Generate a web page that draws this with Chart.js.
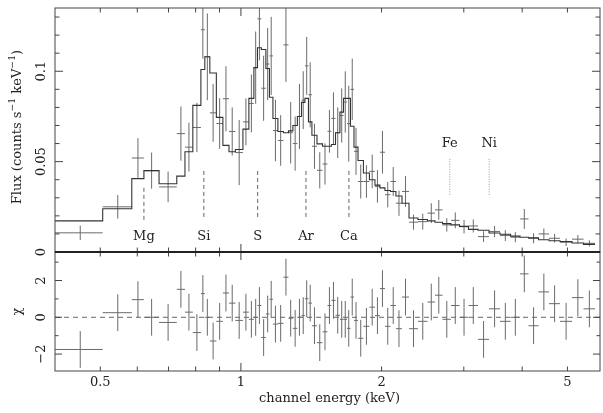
<!DOCTYPE html>
<html>
<head>
<meta charset="utf-8">
<script src="https://cdn.jsdelivr.net/npm/chart.js@4.4.0/dist/chart.umd.min.js"></script>
<style>
  html, body { margin: 0; padding: 0; background: #fff; }
  #wrap { position: relative; width: 603px; height: 413px; }
  canvas { position: absolute; left: 0; }
  #top { top: 0; }
  #bot { top: 244px; }
</style>
</head>
<body>
<div id="wrap">
  <canvas id="top" width="603" height="260"></canvas>
  <canvas id="bot" width="603" height="169"></canvas>
</div>
<script>
// spectral bins (keV edges), one value per bin below
const binEdges = [0.400, 0.506, 0.584, 0.620, 0.668, 0.729, 0.759, 0.789, 0.821, 0.837,
  0.858, 0.886, 0.915, 0.943, 0.973, 1.010, 1.040, 1.066, 1.085, 1.106,
  1.131, 1.151, 1.171, 1.200, 1.233, 1.264, 1.292, 1.321, 1.348, 1.371,
  1.395, 1.419, 1.455, 1.495, 1.532, 1.562, 1.594, 1.629, 1.658, 1.687,
  1.716, 1.746, 1.781, 1.829, 1.884, 1.936, 1.984, 2.034, 2.090, 2.147,
  2.212, 2.290, 2.393, 2.508, 2.603, 2.701, 2.816, 2.937, 3.070, 3.217,
  3.397, 3.586, 3.777, 3.958, 4.127, 4.336, 4.566, 4.820, 5.114, 5.413, 5.728];

const flux = [0.0106, 0.025, 0.052, 0.045, 0.036, 0.0655, 0.058, 0.0689, 0.123, 0.108,
  0.077, 0.0711, 0.0848, 0.0667, 0.055, 0.072, 0.0822, 0.102, 0.129, 0.0906,
  0.104, 0.1085, 0.0672, 0.0617, 0.1146, 0.066, 0.060, 0.075, 0.084, 0.103,
  0.087, 0.0585, 0.0452, 0.0487, 0.0668, 0.0739, 0.066, 0.0755, 0.083, 0.071,
  0.090, 0.0557, 0.039, 0.039, 0.0446, 0.0363, 0.0552, 0.0317, 0.039, 0.027,
  0.0335, 0.0165, 0.0168, 0.0215, 0.0233, 0.0150, 0.0175, 0.0140, 0.0144, 0.0085,
  0.0113, 0.0091, 0.0082, 0.0183, 0.0076, 0.0100, 0.0076, 0.0054, 0.0071, 0.0048];

const fluxErr = [0.004, 0.0065, 0.011, 0.010, 0.0085, 0.015, 0.0135, 0.0136, 0.016, 0.024,
  0.016, 0.014, 0.018, 0.0133, 0.018, 0.013, 0.016, 0.020, 0.023, 0.018,
  0.020, 0.0216, 0.017, 0.014, 0.0205, 0.017, 0.015, 0.018, 0.016, 0.016,
  0.018, 0.0125, 0.010, 0.0114, 0.0118, 0.0144, 0.014, 0.015, 0.017, 0.021,
  0.017, 0.013, 0.0094, 0.009, 0.0093, 0.009, 0.0118, 0.007, 0.008, 0.007,
  0.0085, 0.0042, 0.0044, 0.0055, 0.0055, 0.0037, 0.0044, 0.0037, 0.0036, 0.003,
  0.0031, 0.003, 0.0028, 0.0055, 0.0028, 0.003, 0.0024, 0.0021, 0.0023, 0.0017];

const model = [0.0172, 0.0239, 0.0406, 0.045, 0.0378, 0.042, 0.0555, 0.0811, 0.101, 0.108,
  0.099, 0.0745, 0.059, 0.0555, 0.0567, 0.068, 0.085, 0.102, 0.113, 0.112,
  0.1015, 0.0856, 0.0739, 0.0667, 0.066, 0.067, 0.070, 0.075, 0.0828, 0.085,
  0.072, 0.0646, 0.0598, 0.0585, 0.0585, 0.0595, 0.066, 0.0774, 0.085, 0.085,
  0.0696, 0.058, 0.0506, 0.0437, 0.040, 0.037, 0.0355, 0.034, 0.0335, 0.031,
  0.027, 0.0188, 0.018, 0.0172, 0.0165, 0.0157, 0.015, 0.0142, 0.0125, 0.012,
  0.0105, 0.0098, 0.0088, 0.0082, 0.0078, 0.0068, 0.0062, 0.0058, 0.005, 0.0042];

const chi = [-1.75, 0.25, 0.96, 0, -0.28, 1.52, 0.28, -0.83, 1.29, 0,
  -1.29, -0.22, 1.32, 0.77, -0.17, 0.28, -0.11, 0, 0.64, -1.1,
  0.18, 0.98, -0.37, -0.33, 2.18, -0.05, -0.6, 0, 0.09, 1.01,
  0.77, -0.46, -1.38, -0.79, 0.64, 0.92, 0.11, -0.11, -0.11, -0.6,
  1.1, -0.17, -1.14, -0.49, 0.55, 0.09, 1.56, -0.49, 0.64, -0.62,
  1.1, -0.62, -0.22, 0.83, 1.2, -0.11, 0.64, 0, 0.64, -1.2,
  0.46, -0.22, 0, 2.36, -0.46, 1.38, 0.74, -0.22, 1.07, 0.46];
const CHI_ERR = 1;

// line identifications
const lineNames = ['Mg', 'Si', 'S', 'Ar', 'Ca'];
const lineEnergy = [0.620, 0.833, 1.086, 1.378, 1.703];
const lineLo = [0.0178, 0.0194, 0.0194, 0.0194, 0.0194];
const lineHi = [0.0356, 0.0449, 0.0449, 0.0449, 0.0449];
const hiNames = ['Fe', 'Ni'];
const hiEnergy = [2.80, 3.40];
const hiLo = 0.0316, hiHi = 0.052;

const xTicks = [0.5, 0.6, 0.7, 0.8, 0.9, 1, 2, 3, 4, 5];
const xTickLabels = ['0.5', '1', '2', '5'];
const xTickLabelVals = [0.5, 1, 2, 5];
const fluxTicks = [0, 0.01, 0.02, 0.03, 0.04, 0.05, 0.06, 0.07, 0.08, 0.09, 0.1, 0.11, 0.12, 0.13];
const fluxLabelVals = [0, 0.05, 0.1];
const fluxLabels = ['0', '0.05', '0.1'];
const chiTicks = [-2, -1, 0, 1, 2, 3];
const chiLabelVals = [-2, 0, 2];
const chiLabels = ['\u22122', '0', '2'];

const FONT = '"DejaVu Serif", serif';
const INK = '#222';

function crosses(vals, errs) {
  const pts = [];
  for (let i = 0; i < vals.length; i++) {
    const lo = binEdges[i], hi = binEdges[i + 1], c = (lo + hi) / 2;
    const e = Array.isArray(errs) ? errs[i] : errs;
    pts.push({ x: lo, y: vals[i] }, { x: hi, y: vals[i] }, { x: c, y: null });
    pts.push({ x: c, y: vals[i] - e }, { x: c, y: vals[i] + e }, { x: c, y: null });
  }
  return pts;
}

function steps(vals) {
  const pts = [];
  for (let i = 0; i < vals.length; i++) {
    pts.push({ x: binEdges[i], y: vals[i] }, { x: binEdges[i + 1], y: vals[i] });
  }
  return pts;
}

function markers(energies, lo, hi) {
  const pts = [];
  energies.forEach((e, i) => {
    const a = Array.isArray(lo) ? lo[i] : lo, b = Array.isArray(hi) ? hi[i] : hi;
    pts.push({ x: e, y: a }, { x: e, y: b }, { x: e, y: null });
  });
  return pts;
}

function rotText(ctx, text, x, y) {
  ctx.save();
  ctx.translate(x, y);
  ctx.rotate(-Math.PI / 2);
  ctx.textAlign = 'center';
  ctx.textBaseline = 'middle';
  ctx.fillText(text, 0, 0);
  ctx.restore();
}

function richRot(ctx, parts, x, y, size) {
  ctx.save();
  ctx.translate(x, y);
  ctx.rotate(-Math.PI / 2);
  ctx.textBaseline = 'middle';
  ctx.textAlign = 'left';
  let w = 0;
  parts.forEach(([t, sup]) => { ctx.font = (sup ? size * 0.72 : size) + 'px ' + FONT; w += ctx.measureText(t).width; });
  let cx = -w / 2;
  parts.forEach(([t, sup]) => {
    ctx.font = (sup ? size * 0.72 : size) + 'px ' + FONT;
    ctx.fillText(t, cx, sup ? -size * 0.42 : 0);
    cx += ctx.measureText(t).width;
  });
  ctx.restore();
}

function frameAndTicks(chart, yTicks, isMajorY, yMaj, yMin) {
  const { ctx, chartArea: a, scales: { x, y } } = chart;
  ctx.save();
  ctx.strokeStyle = '#444';
  ctx.lineWidth = 1;
  ctx.strokeRect(a.left, a.top, a.right - a.left, a.bottom - a.top);
  ctx.beginPath();
  xTicks.forEach(v => {
    const px = x.getPixelForValue(v);
    const len = v === 1 ? 8 : 4.5;
    ctx.moveTo(px, a.top); ctx.lineTo(px, a.top + len);
    ctx.moveTo(px, a.bottom); ctx.lineTo(px, a.bottom - len);
  });
  yTicks.forEach(v => {
    const py = y.getPixelForValue(v);
    const len = isMajorY(v) ? yMaj : yMin;
    ctx.moveTo(a.left, py); ctx.lineTo(a.left + len, py);
    ctx.moveTo(a.right, py); ctx.lineTo(a.right - len, py);
  });
  ctx.stroke();
  ctx.restore();
}

const topDecor = {
  id: 'topDecor',
  afterDraw(chart) {
    const { ctx, chartArea: a, scales: { x, y } } = chart;
    frameAndTicks(chart, fluxTicks, v => Math.abs(v * 20 - Math.round(v * 20)) < 1e-6, 8, 4.5);
    ctx.save();
    ctx.fillStyle = INK;
    ctx.font = '13px ' + FONT;
    fluxLabelVals.forEach((v, i) => rotText(ctx, fluxLabels[i], a.left - 13, y.getPixelForValue(v)));
    richRot(ctx, [['Flux (counts s', false], ['\u22121', true], [' keV', false], ['\u22121', true], [')', false]],
      18, (a.top + a.bottom) / 2 - 3, 13);
    ctx.font = '13px ' + FONT;
    ctx.textAlign = 'center';
    ctx.textBaseline = 'middle';
    lineNames.forEach((n, i) => ctx.fillText(n, x.getPixelForValue(lineEnergy[i]), y.getPixelForValue(0.0083)));
    hiNames.forEach((n, i) => ctx.fillText(n, x.getPixelForValue(hiEnergy[i]), y.getPixelForValue(0.0598)));
    ctx.restore();
  }
};

const botDecor = {
  id: 'botDecor',
  afterDraw(chart) {
    const { ctx, chartArea: a, scales: { x, y } } = chart;
    frameAndTicks(chart, chiTicks, v => v % 2 === 0, 7, 3.5);
    ctx.save();
    ctx.strokeStyle = '#222';
    ctx.lineWidth = 2;
    ctx.beginPath();
    ctx.moveTo(a.left, a.top); ctx.lineTo(a.right, a.top);
    ctx.stroke();
    ctx.fillStyle = INK;
    ctx.font = '13px ' + FONT;
    chiLabelVals.forEach((v, i) => rotText(ctx, chiLabels[i], a.left - 13, y.getPixelForValue(v)));
    rotText(ctx, '\u03c7', 18, (a.top + a.bottom) / 2);
    ctx.textAlign = 'center';
    ctx.textBaseline = 'middle';
    xTickLabelVals.forEach((v, i) => ctx.fillText(xTickLabels[i], x.getPixelForValue(v), a.bottom + 12));
    ctx.fillText('channel energy (keV)', (a.left + a.right) / 2 + 2, a.bottom + 28);
    ctx.restore();
  }
};

const common = {
  responsive: false,
  animation: false,
  devicePixelRatio: 1,
  events: [],
  plugins: { legend: { display: false }, tooltip: { enabled: false } },
  elements: { point: { radius: 0 }, line: { tension: 0, borderWidth: 1 } }
};

new Chart(document.getElementById('top'), {
  type: 'scatter',
  data: {
    datasets: [
      { data: steps(model), showLine: true, borderColor: '#333', borderWidth: 1.1 },
      { data: crosses(flux, fluxErr), showLine: true, borderColor: '#6a6a6a', borderWidth: 1 },
      { data: markers(lineEnergy, lineLo, lineHi), showLine: true, borderColor: '#666', borderWidth: 1, borderDash: [4, 3] },
      { data: markers(hiEnergy, hiLo, hiHi), showLine: true, borderColor: '#999', borderWidth: 1, borderDash: [1, 1.5] }
    ]
  },
  options: Object.assign({}, common, {
    layout: { padding: { left: 55, right: 3, top: 8, bottom: 8 } },
    scales: {
      x: { type: 'logarithmic', min: 0.4, max: 5.87, display: false },
      y: { type: 'linear', min: 0, max: 0.135, display: false }
    }
  }),
  plugins: [topDecor]
});

new Chart(document.getElementById('bot'), {
  type: 'scatter',
  data: {
    datasets: [
      { data: crosses(chi, CHI_ERR), showLine: true, borderColor: '#6a6a6a', borderWidth: 1 },
      { data: [{ x: 0.4, y: 0 }, { x: 5.87, y: 0 }], showLine: true, borderColor: '#666', borderWidth: 1, borderDash: [5, 4] }
    ]
  },
  options: Object.assign({}, common, {
    layout: { padding: { left: 55, right: 3, top: 8, bottom: 42 } },
    scales: {
      x: { type: 'logarithmic', min: 0.4, max: 5.87, display: false },
      y: { type: 'linear', min: -2.92, max: 3.55, display: false }
    }
  }),
  plugins: [botDecor]
});
</script>
</body>
</html>
